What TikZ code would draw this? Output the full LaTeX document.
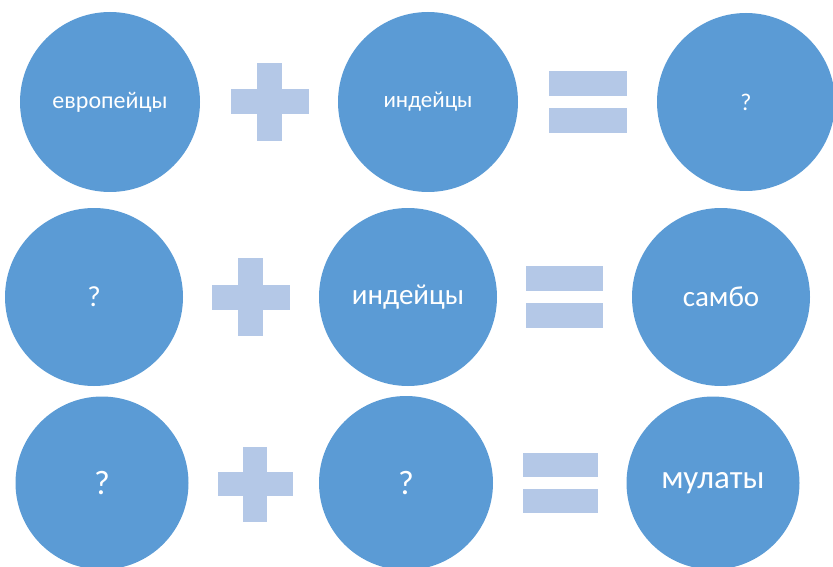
\documentclass[tikz,border=0pt]{standalone}
\usepackage{fontspec}
\setmainfont{Carlito}
\definecolor{ballblue}{HTML}{5B9BD5}
\definecolor{signblue}{HTML}{B4C8E7}
\begin{document}
\begin{tikzpicture}[
      x=1pt, y=-1pt,
      ball/.style={circle, fill=ballblue, text=white, inner sep=0pt},
      sign/.style={fill=signblue}
    ]
    \useasboundingbox (0,0) rectangle (833,567);

    %-----------------------------
    % 1) first row
    %-----------------------------
    \node[ball, minimum size=180pt, font=\fontsize{24}{28}\selectfont] (euro-1) at (110,102) {европейцы};
    \node[ball, minimum size=180pt, font=\fontsize{23}{27}\selectfont] (ind-1) at (428,102) {индейцы};
    \node[ball, minimum size=178pt, font=\fontsize{24}{28}\selectfont] (res-1) at (746,102) {?};

    %-----------------------------
    % 2) second row
    %-----------------------------
    \node[ball, minimum size=178pt, font=\fontsize{29}{34}\selectfont] (euro-2) at (94,297) {?};
    \node[ball, minimum size=178pt, font=\fontsize{29}{34}\selectfont] (ind-2) at (408,297) {индейцы};
    \node[ball, minimum size=178pt, font=\fontsize{29}{34}\selectfont] (res-2) at (721,297) {самбо};

    %-----------------------------
    % 3) third row
    %-----------------------------
    \node[ball, minimum size=173pt, font=\fontsize{34}{39}\selectfont] (euro-3) at (102,483) {?};
    \node[ball, minimum size=174pt, font=\fontsize{34}{39}\selectfont] (ind-3) at (406,483) {?};
    \node[ball, minimum size=173pt, font=\fontsize{33}{38}\selectfont] (res-3) at (713,483) {мулаты};

    %-----------------------------
    % plus signs
    %-----------------------------
    \foreach \cx/\cy/\a/\t in {269.5/102/39/12.5, 250.5/297/39/12.5, 255/484/37.5/12} {
      \fill[sign] (\cx-\a,\cy-\t) rectangle (\cx+\a,\cy+\t);
      \fill[sign] (\cx-\t,\cy-\a) rectangle (\cx+\t,\cy+\a);
    }

    %-----------------------------
    % equals signs
    %-----------------------------
    \foreach \xa/\xb/\ya/\yb/\yc/\yd in {549/627/71/96/108/133, 526/603/266/291/303/328, 523/598/453/477/489/513} {
      \fill[sign] (\xa,\ya) rectangle (\xb,\yb);
      \fill[sign] (\xa,\yc) rectangle (\xb,\yd);
    }

  \end{tikzpicture}
\end{document}
